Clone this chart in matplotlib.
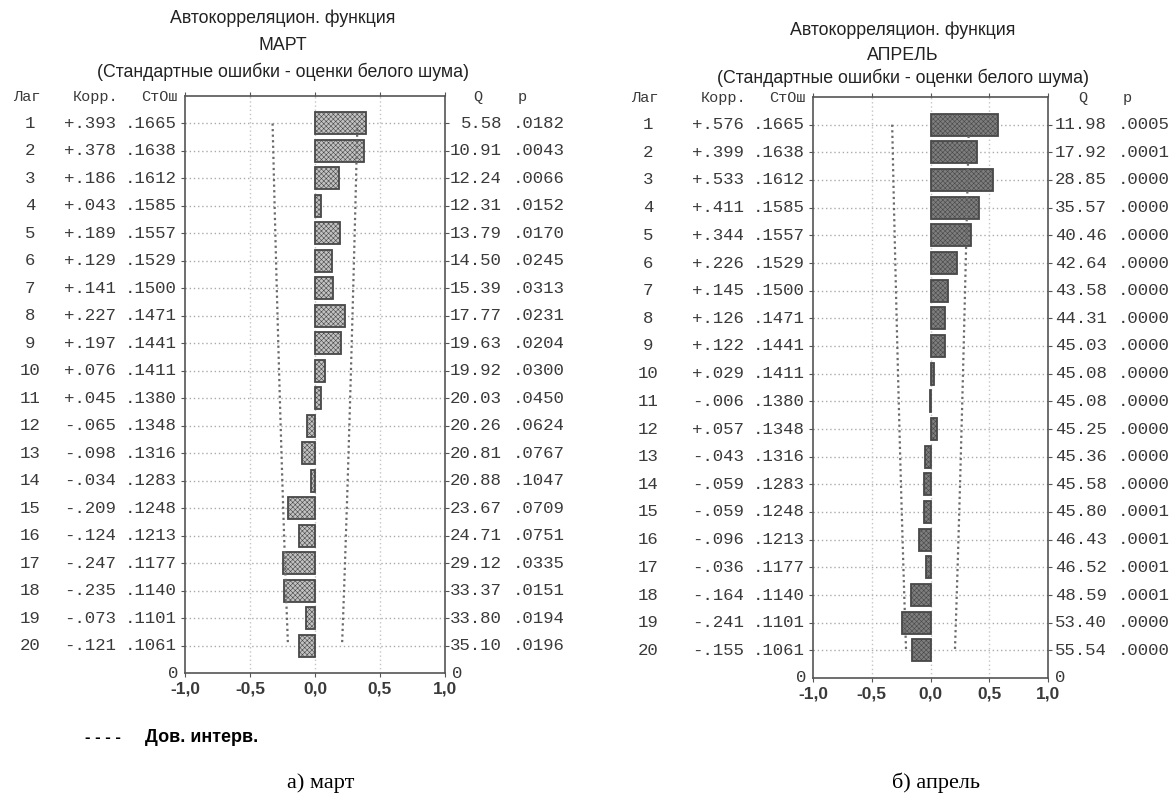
import matplotlib
matplotlib.use("Agg")
import matplotlib.pyplot as plt
from matplotlib.transforms import blended_transform_factory

# --- данные: март ---
lags = list(range(1, 21))
corr_mar = [0.393, 0.378, 0.186, 0.043, 0.189, 0.129, 0.141, 0.227, 0.197, 0.076,
            0.045, -0.065, -0.098, -0.034, -0.209, -0.124, -0.247, -0.235, -0.073, -0.121]
se_mar = [.1665, .1638, .1612, .1585, .1557, .1529, .1500, .1471, .1441, .1411,
          .1380, .1348, .1316, .1283, .1248, .1213, .1177, .1140, .1101, .1061]
q_mar = [5.58, 10.91, 12.24, 12.31, 13.79, 14.50, 15.39, 17.77, 19.63, 19.92,
         20.03, 20.26, 20.81, 20.88, 23.67, 24.71, 29.12, 33.37, 33.80, 35.10]
p_mar = [.0182, .0043, .0066, .0152, .0170, .0245, .0313, .0231, .0204, .0300,
         .0450, .0624, .0767, .1047, .0709, .0751, .0335, .0151, .0194, .0196]

# --- данные: апрель ---
corr_apr = [0.576, 0.399, 0.533, 0.411, 0.344, 0.226, 0.145, 0.126, 0.122, 0.029,
            -0.006, 0.057, -0.043, -0.059, -0.059, -0.096, -0.036, -0.164, -0.241, -0.155]
se_apr = se_mar
q_apr = [11.98, 17.92, 28.85, 35.57, 40.46, 42.64, 43.58, 44.31, 45.03, 45.08,
         45.08, 45.25, 45.36, 45.58, 45.80, 46.43, 46.52, 48.59, 53.40, 55.54]
p_apr = [.0005, .0001, .0000, .0000, .0000, .0000, .0000, .0000, .0000, .0000,
         .0000, .0000, .0000, .0000, .0001, .0001, .0001, .0001, .0000, .0000]

xticks = [-1.0, -0.5, 0.0, 0.5, 1.0]
xtick_labels = ["-1,0", "-0,5", "0,0", "0,5", "1,0"]

plt.rcParams["hatch.linewidth"] = 0.4

W, H = 1173, 796
fig = plt.figure(figsize=(W / 100, H / 100), dpi=100)

MONO = "Liberation Mono"
SANS = ["Liberation Sans", "DejaVu Sans"]
TXT = "#3a3a3a"


def fx(x):
    return x / W


def fy(y):
    return 1 - y / H


def fmt_corr(v):
    s = "%.3f" % abs(v)
    return ("+" if v >= 0 else "-") + s[1:]


def fmt4(v):
    return ("%.4f" % v)[1:]


def panel(rect, corr, se, q, p, name, cols, title_xy, face, hatch_col, caption):
    x0, x1, ytop, ybot = rect
    ax = fig.add_axes([fx(x0), fy(ybot), fx(x1 - x0), (ybot - ytop) / H])
    ypos = [21 - k for k in lags]

    ax.set_xlim(-1, 1)
    ax.set_ylim(0, 21)
    for y in ypos:
        ax.axhline(y, color="#aaaaaa", lw=1, ls=(0, (1, 2)), zorder=0)
    for x in [-0.5, 0.0, 0.5]:
        ax.axvline(x, color="#c4c4c4", lw=1, ls=(0, (1, 2)), zorder=0)

    plt.rcParams["hatch.color"] = hatch_col
    ax.barh(ypos, corr, height=0.8, left=0, color=face, edgecolor="#484848",
            lw=1.3, hatch="xxxxxxx", zorder=2)

    lim = [1.96 * s for s in se]
    ax.plot(lim, ypos, color="#6a6a6a", lw=1.6, ls=(0, (1, 1.5)), zorder=3)
    ax.plot([-v for v in lim], ypos, color="#6a6a6a", lw=1.6, ls=(0, (1, 1.5)), zorder=3)

    ax.set_xticks(xticks)
    ax.set_xticklabels(xtick_labels, fontsize=12.5, color=TXT, family=SANS, fontweight="bold")
    ax.set_yticks(ypos)
    ax.set_yticklabels([])
    ax.tick_params(axis="y", length=3, color="#555555", left=True, right=True)
    ax.tick_params(axis="x", length=3, color="#555555", top=True, bottom=True, pad=3)
    for sp in ax.spines.values():
        sp.set_color("#555555")
        sp.set_linewidth(1.2)

    # таблица слева и справа
    tr = blended_transform_factory(fig.transFigure, ax.transData)
    lag_x, corr_x, se_x, q_x, p_x = cols
    kw = dict(transform=tr, va="center", fontsize=12.5, family=MONO, color=TXT)
    for k, y in zip(lags, ypos):
        i = k - 1
        ax.text(fx(lag_x), y, str(k), ha="center", **kw)
        ax.text(fx(corr_x), y, fmt_corr(corr[i]), ha="right", **kw)
        ax.text(fx(se_x), y, fmt4(se[i]), ha="right", **kw)
        ax.text(fx(q_x), y, "%.2f" % q[i], ha="right", **kw)
        ax.text(fx(p_x), y, fmt4(p[i]), ha="right", **kw)
    ax.text(fx(x0 - 7), 0, "0", ha="right", **kw)
    ax.text(fx(x1 + 7), 0, "0", ha="left", **kw)

    hy = fy(ytop + 1)
    hk = dict(va="center", fontsize=11, family=MONO, color=TXT)
    fig.text(fx(lag_x - 3), hy, "Лаг", ha="center", **hk)
    fig.text(fx(corr_x + 2), hy, "Корр.", ha="right", **hk)
    fig.text(fx(se_x + 1), hy, "СтОш", ha="right", **hk)
    fig.text(fx(q_x - 24), hy, "Q", ha="center", **hk)
    fig.text(fx(p_x - 43), hy, "p", ha="center", **hk)

    tx, ty = title_xy
    tk = dict(ha="center", va="center", fontsize=12.8, family=SANS, color="#222222")
    fig.text(fx(tx), fy(ty[0]), "Автокорреляцион. функция", **tk)
    fig.text(fx(tx), fy(ty[1]), name, **tk)
    fig.text(fx(tx), fy(ty[2]), "(Стандартные ошибки - оценки белого шума)", **tk)

    fig.text(fx((x0 + x1) / 2 + 6), fy(783), caption, ha="center", va="center",
             fontsize=16, family="Liberation Serif", color="black")
    return ax


panel((185, 445, 96, 673), corr_mar, se_mar, q_mar, p_mar, "МАРТ",
      (30, 116, 177, 502, 565), (283, (18, 45, 72)), "#c2c2c2", "#929292", "а) март")
panel((813, 1048, 97, 678), corr_apr, se_apr, q_apr, p_apr, "АПРЕЛЬ",
      (648, 744, 805, 1107, 1170), (903, (30, 55, 78)), "#7e7e7e", "#5e5e5e", "б) апрель")

fig.text(fx(85), fy(737), "- - - -", ha="left", va="center", fontsize=12,
         family="Liberation Sans", fontweight="bold", color="black")
fig.text(fx(145), fy(737), "Дов. интерв.", ha="left", va="center", fontsize=13,
         family="Liberation Sans", fontweight="bold", color="black")

fig.savefig("out.png", dpi=100, facecolor="white")
